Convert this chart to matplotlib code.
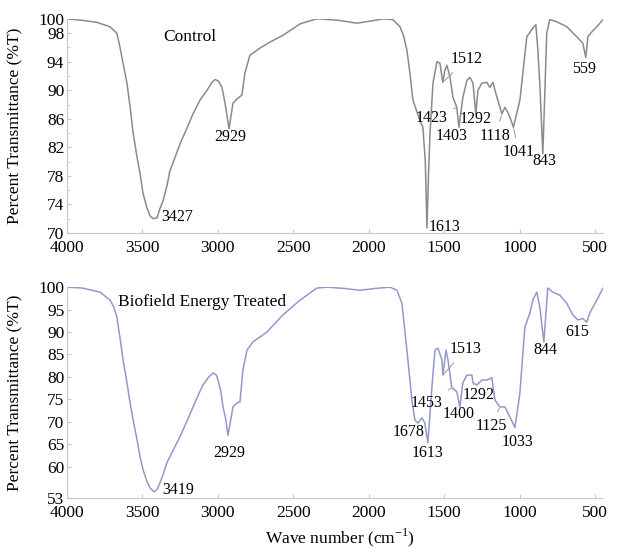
import matplotlib.pyplot as plt
from matplotlib.ticker import FixedLocator

plt.rcParams['font.family'] = ['Liberation Serif', 'DejaVu Serif']
plt.rcParams['mathtext.fontset'] = 'custom'
plt.rcParams['mathtext.rm'] = 'Liberation Serif'

# control spectrum (wave number, %T)
wn_control = [4000, 3900, 3800, 3715, 3695, 3670, 3649, 3629, 3603, 3582, 3562, 3536, 3516,
              3496, 3470, 3450, 3430, 3404, 3384, 3364, 3338, 3318, 3284, 3251, 3207, 3165,
              3119, 3072, 3040, 3019, 2997, 2973, 2953, 2926, 2900, 2867, 2841, 2821, 2788,
              2722, 2650, 2569, 2456, 2410, 2344, 2324, 2200, 2078, 1960, 1906, 1840, 1793,
              1770, 1747, 1727, 1707, 1661, 1641, 1625, 1614, 1604, 1594, 1574, 1548, 1528,
              1509, 1495, 1482, 1462, 1442, 1423, 1416, 1402, 1376, 1349, 1329, 1309, 1290,
              1276, 1250, 1217, 1197, 1177, 1150, 1117, 1097, 1078, 1060, 1041, 998, 952,
              912, 892, 880, 866, 846, 832, 820, 800, 753, 687, 621, 581, 561, 547, 520,
              488, 447]
t_control = [100, 99.8, 99.5, 98.9, 98.5, 98.0, 96.0, 93.8, 91.0, 87.6, 84.0, 80.6, 78.3,
             75.5, 73.5, 72.4, 72.0, 72.1, 73.4, 74.5, 76.6, 78.7, 80.6, 82.5, 84.6, 86.7,
             88.6, 90.0, 91.1, 91.5, 91.3, 90.4, 88.2, 84.6, 88.2, 88.9, 89.3, 92.4, 94.9,
             95.9, 96.8, 97.7, 99.3, 99.6, 100, 100, 99.8, 99.4, 99.8, 100, 99.9, 98.9,
             97.7, 95.6, 92.4, 88.6, 85.8, 84.8, 80.0, 70.7, 78.0, 83.9, 91.0, 94.0, 93.8,
             91.1, 92.8, 93.5, 91.9, 89.0, 88.0, 87.6, 84.8, 89.0, 91.4, 91.8, 91.0, 86.7,
             90.0, 91.0, 91.1, 90.4, 91.1, 89.0, 86.7, 87.6, 86.9, 86.0, 84.8, 88.6, 97.5,
             98.7, 99.2, 96.0, 91.0, 81.1, 90.0, 98.0, 99.9, 99.6, 98.9, 97.5, 96.6, 94.6,
             97.5, 98.2, 98.9, 99.9]

# biofield energy treated spectrum
wn_treated = [4000, 3900, 3781, 3715, 3690, 3670, 3649, 3629, 3603, 3582, 3559, 3536, 3516,
              3496, 3470, 3450, 3424, 3404, 3384, 3364, 3338, 3295, 3251, 3207, 3165, 3130,
              3099, 3065, 3033, 3010, 2999, 2980, 2966, 2950, 2933, 2900, 2874, 2854, 2834,
              2807, 2768, 2675, 2569, 2456, 2344, 2277, 2160, 2058, 1960, 1860, 1813, 1780,
              1747, 1714, 1694, 1674, 1648, 1628, 1608, 1581, 1561, 1541, 1515, 1508, 1488,
              1475, 1449, 1416, 1396, 1376, 1349, 1316, 1309, 1283, 1250, 1217, 1184, 1164,
              1131, 1097, 1064, 1031, 998, 965, 932, 912, 886, 866, 839, 813, 780, 733, 687,
              647, 614, 580, 555, 535, 488, 447]
t_treated = [100, 99.8, 98.9, 97.1, 95.6, 93.3, 88.7, 83.8, 78.7, 74.2, 69.8, 66.0, 62.2,
             59.3, 56.7, 55.3, 54.4, 54.9, 56.4, 58.2, 60.9, 63.8, 66.7, 70.0, 73.3, 76.0,
             78.2, 79.8, 80.9, 80.4, 79.3, 76.7, 73.3, 70.9, 67.0, 73.3, 74.2, 74.4, 81.6,
             86.0, 87.8, 90.0, 93.8, 97.1, 99.8, 100, 99.7, 99.3, 99.7, 100, 99.3, 96.4,
             86.0, 74.9, 70.4, 69.7, 70.9, 69.7, 65.3, 77.8, 86.0, 86.4, 83.8, 80.4, 86.0,
             83.8, 77.6, 76.7, 73.3, 78.7, 80.4, 80.4, 78.7, 78.2, 79.3, 79.3, 79.8, 74.9,
             73.3, 73.3, 71.1, 68.7, 76.4, 91.1, 94.2, 97.1, 98.9, 95.6, 87.8, 99.8, 98.9,
             98.2, 96.4, 93.8, 92.7, 93.0, 92.2, 94.2, 97.1, 99.8]

# peak labels: (wave number, %T, text)
peaks_control = [(3430, 72.0, '3427'), (2926, 84.6, '2929'), (1614, 70.7, '1613'),
                 (1509, 91.1, '1512'), (1416, 87.6, '1423'), (1402, 84.8, '1403'),
                 (1290, 86.7, '1292'), (1117, 86.7, '1118'), (1041, 84.8, '1041'),
                 (846, 81.1, '843'), (561, 94.6, '559')]
peaks_treated = [(3424, 54.4, '3419'), (2933, 67.0, '2929'), (1674, 69.7, '1678'),
                 (1608, 65.3, '1613'), (1508, 80.4, '1513'), (1449, 77.6, '1453'),
                 (1396, 73.3, '1400'), (1309, 78.7, '1292'), (1131, 73.3, '1125'),
                 (1031, 68.7, '1033'), (839, 87.8, '844'), (614, 92.7, '615')]

# label offsets in points, alignment, leader line
off_control = [((6, 1), 'left', False), ((1, -6), 'center', False), ((1, 1), 'left', False),
               ((6, 17), 'left', True), ((-7, -8), 'right', True), ((-5, -6), 'center', False),
               ((0, -4), 'center', False), ((-5, -16), 'center', True), ((4, -18), 'center', True),
               ((1, -5), 'center', False), ((-1, -8), 'center', False)]
off_treated = [((6, 1), 'left', False), ((1, -13), 'center', False), ((-7, -6.5), 'center', False),
               ((0, -7), 'center', False), ((5, 19), 'left', True), ((-18, -11), 'center', True),
               ((-1, -5), 'center', False), ((4, -9), 'center', True), ((-6, -14), 'center', True),
               ((2, -10), 'center', False), ((1, -6), 'center', False), ((0, -8.5), 'center', False)]

fig = plt.figure(figsize=(6.21, 5.48), dpi=100)
ax1 = fig.add_axes([0.108, 0.575, 0.863, 0.3905])
ax2 = fig.add_axes([0.108, 0.091, 0.863, 0.385])

ax1.plot(wn_control, t_control, color='#8a8a8a', lw=1.1, solid_joinstyle='round')
ax2.plot(wn_treated, t_treated, color='#9497cc', lw=1.1, solid_joinstyle='round')


def add_labels(ax, peaks, offs):
    for (w, t, s), (o, ha, lead) in zip(peaks, offs):
        ax.annotate(s, xy=(w, t), xytext=o, textcoords='offset points', ha=ha, va='center',
                    fontsize=11.5,
                    arrowprops=dict(arrowstyle='-', color='#999999', lw=0.7,
                                    shrinkA=3, shrinkB=1) if lead else None)


add_labels(ax1, peaks_control, off_control)
add_labels(ax2, peaks_treated, off_treated)

ax1.set_ylim(70, 100)
ax1.set_yticks([70, 74, 78, 82, 86, 90, 94, 98, 100])
ax1.yaxis.set_minor_locator(FixedLocator([72, 76, 80, 84, 88, 92, 96]))
ax2.set_ylim(53, 100)
ax2.set_yticks([53, 60, 65, 70, 75, 80, 85, 90, 95, 100])

for ax in (ax1, ax2):
    ax.set_xlim(4000, 447)
    ax.set_xticks([4000, 3500, 3000, 2500, 2000, 1500, 1000, 500])
    for s in ('top', 'right'):
        ax.spines[s].set_visible(False)
    for s in ('left', 'bottom'):
        ax.spines[s].set_color('#c8c8c8')
    ax.tick_params(which='both', direction='in', length=3, color='#c8c8c8',
                   labelsize=12.5, pad=2)
    ax.tick_params(axis='x', pad=5)
    ax.tick_params(which='minor', length=2)
    ax.set_ylabel('Percent Transmittance (%T)', fontsize=12.5)
    ax.yaxis.set_label_coords(-0.082, 0.5)

ax1.text(0.229, 0.916, 'Control', transform=ax1.transAxes, ha='center', va='center', fontsize=12.5)
ax2.text(0.252, 0.929, 'Biofield Energy Treated', transform=ax2.transAxes, ha='center',
         va='center', fontsize=12.5)

fig.text(0.547, 0.018, 'Wave number (cm$^{-1}$)', ha='center', va='center', fontsize=12.5)

fig.savefig('out.png', dpi=100)
